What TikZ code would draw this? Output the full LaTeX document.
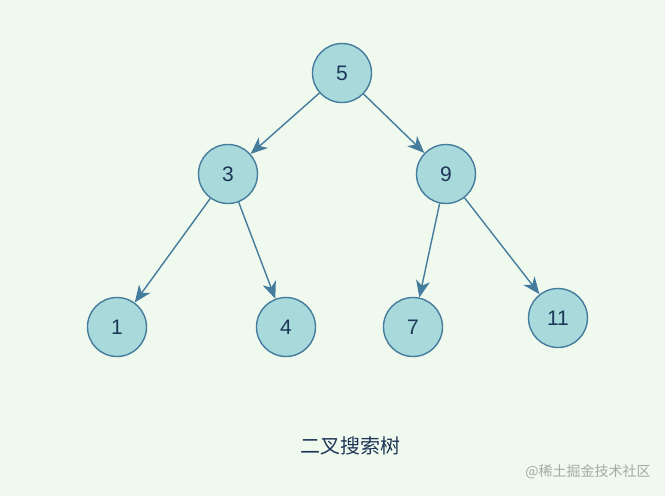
\documentclass[tikz,border=0pt]{standalone}
\usepackage{fontspec}
\setmainfont{Liberation Sans}
\newfontfamily\cjk{Noto Sans CJK SC}
\usetikzlibrary{arrows.meta}

\definecolor{bgpale}{HTML}{F0F9EE}
\definecolor{nodefill}{HTML}{A8DADC}
\definecolor{nodeline}{HTML}{457B9D}
\definecolor{textnavy}{HTML}{1D3557}
\definecolor{markgray}{HTML}{A3AAA3}

\tikzset{
  treenode/.style={circle, draw=nodeline, fill=nodefill, line width=1.4pt,
    minimum size=59pt, inner sep=0pt, text=textnavy, font=\fontsize{21}{21}\selectfont},
  treeedge/.style={draw=nodeline, line width=1.4pt,
    -{Stealth[length=17pt, width=14pt, inset=5pt]}}
}

\begin{document}
\begin{tikzpicture}[x=1pt, y=-1pt] % pixel coordinates, y goes down

        % Background
        \fill[bgpale] (0,0) rectangle (665,496);
        \useasboundingbox (0,0) rectangle (665,496);

        % Root
        \node[treenode] (n5) at (342,73) {5};

        % Second level
        \node[treenode] (n3) at (228,174) {3};
        \node[treenode] (n9) at (446,174) {9};

        % Leaves
        \node[treenode] (n1) at (117,327) {1};
        \node[treenode] (n4) at (286,327) {4};
        \node[treenode] (n7) at (413,327) {7};
        \node[treenode] (n11) at (558,318) {11};

        % Edges
        \foreach \a/\b in {n5/n3, n5/n9, n3/n1, n3/n4, n9/n7, n9/n11} {
            \draw[treeedge] (\a) -- (\b);
        }

        % Caption
        \node[text=textnavy, font=\cjk\fontsize{20}{20}\selectfont] (caption) at (350,446) {二叉搜索树};

        % Watermark
        \node[text=markgray, font=\cjk\fontsize{14}{14}\selectfont] (mark) at (588,472) {@稀土掘金技术社区};

    \end{tikzpicture}
\end{document}
